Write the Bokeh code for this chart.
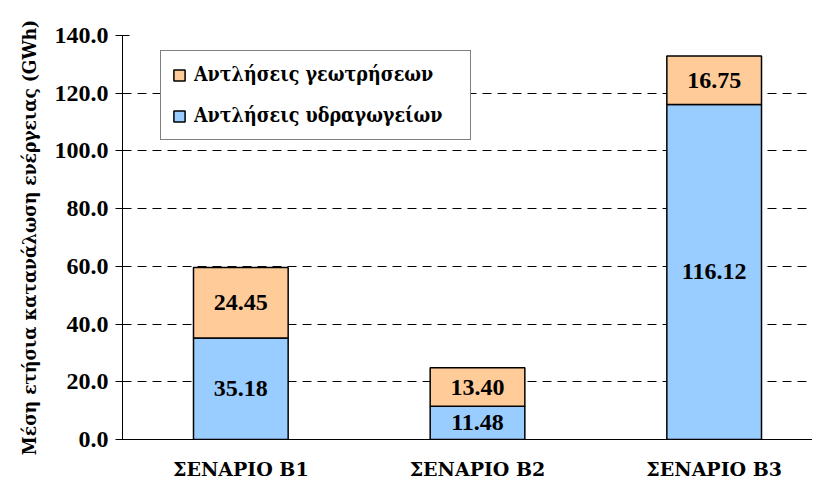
from bokeh.plotting import figure
from bokeh.models import ColumnDataSource, Range1d, FixedTicker, NumeralTickFormatter, Legend, LegendItem
from bokeh.core.properties import value
from bokeh.embed import file_html
from bokeh.resources import INLINE

scenarios = ["ΣΕΝΑΡΙΟ Β1", "ΣΕΝΑΡΙΟ Β2", "ΣΕΝΑΡΙΟ Β3"]
hydro = [35.18, 11.48, 116.12]
geo = [24.45, 13.40, 16.75]
series_names = ["Αντλήσεις υδραγωγείων", "Αντλήσεις γεωτρήσεων"]
y_ticks = [0, 20, 40, 60, 80, 100, 120, 140]
y_title = "Μέση ετήσια κατανάλωση ενέργειας (GWh)"

FONT = "Liberation Serif"
GFONT = "DejaVu Serif"
CFONT = "DejaVu Serif Condensed"
BLUE = "#99CCFF"
ORANGE = "#FFCC99"

x = [i + 0.5 for i in range(len(scenarios))]
src = ColumnDataSource(dict(
    x=x,
    hydro=hydro,
    geo=geo,
    top=[h + g for h, g in zip(hydro, geo)],
    hydro_mid=[h / 2 for h in hydro],
    geo_mid=[h + g / 2 for h, g in zip(hydro, geo)],
    hydro_lbl=[f"{v:.2f}" for v in hydro],
    geo_lbl=[f"{v:.2f}" for v in geo],
))

p = figure(width=812, height=484,
           x_range=Range1d(0, 690 / 236.67), y_range=Range1d(0, 140),
           output_backend="svg", toolbar_location=None,
           min_border_left=122, min_border_right=0,
           min_border_top=35, min_border_bottom=45)
p.outline_line_color = None
p.background_fill_color = "white"
p.border_fill_color = "white"

r_h = p.vbar(x="x", bottom=0, top="hydro", width=0.4, fill_color=BLUE,
             line_color="black", line_width=1.5, source=src)
r_g = p.vbar(x="x", bottom="hydro", top="top", width=0.4, fill_color=ORANGE,
             line_color="black", line_width=1.5, source=src)

for ycol, tcol in (("hydro_mid", "hydro_lbl"), ("geo_mid", "geo_lbl")):
    p.text(x="x", y=ycol, text=tcol, source=src, text_align="center",
           text_baseline="middle", text_font=value(FONT), text_font_style="bold",
           text_font_size="24px", text_color="black")

# y axis
p.yaxis.ticker = FixedTicker(ticks=y_ticks)
p.yaxis.formatter = NumeralTickFormatter(format="0.0")
p.yaxis.major_label_text_font = FONT
p.yaxis.major_label_text_font_style = "bold"
p.yaxis.major_label_text_font_size = "24px"
p.yaxis.major_label_text_color = "black"
p.yaxis.major_tick_in = 7
p.yaxis.major_tick_out = 7
p.yaxis.major_tick_line_color = "black"
p.yaxis.minor_tick_line_color = None
p.yaxis.axis_line_color = "black"
p.yaxis.major_label_standoff = 7
p.yaxis.axis_label = y_title
p.yaxis.axis_label_text_font = CFONT
p.yaxis.axis_label_text_font_style = "bold"
p.yaxis.axis_label_text_font_size = "19px"
p.yaxis.axis_label_text_color = "black"
p.yaxis.axis_label_standoff = 12

# x axis
p.xaxis.ticker = FixedTicker(ticks=x)
p.xaxis.major_label_overrides = {xi: s for xi, s in zip(x, scenarios)}
p.xaxis.major_label_text_font = GFONT
p.xaxis.major_label_text_font_style = "bold"
p.xaxis.major_label_text_font_size = "19px"
p.xaxis.major_label_text_color = "black"
p.xaxis.major_tick_line_color = None
p.xaxis.minor_tick_line_color = None
p.xaxis.major_tick_out = 0
p.xaxis.major_tick_in = 0
p.xaxis.major_label_standoff = 18
p.xaxis.axis_line_color = "black"

p.xgrid.grid_line_color = None
p.ygrid.grid_line_color = "black"
p.ygrid.grid_line_dash = "9 6"
p.ygrid.grid_line_width = 1

legend = Legend(items=[LegendItem(label=series_names[1], renderers=[r_g]),
                       LegendItem(label=series_names[0], renderers=[r_h])],
                location=(38, 299), orientation="vertical",
                label_text_font=CFONT, label_text_font_style="bold",
                label_text_font_size="19.5px", label_text_color="black",
                label_height=25, label_width=265, glyph_height=14, glyph_width=14,
                spacing=16, padding=11, label_standoff=8, margin=0,
                border_line_color="black", border_line_width=1,
                background_fill_color="white", background_fill_alpha=1)
p.add_layout(legend, "center")

open("out.html", "w").write(file_html(p, INLINE))
